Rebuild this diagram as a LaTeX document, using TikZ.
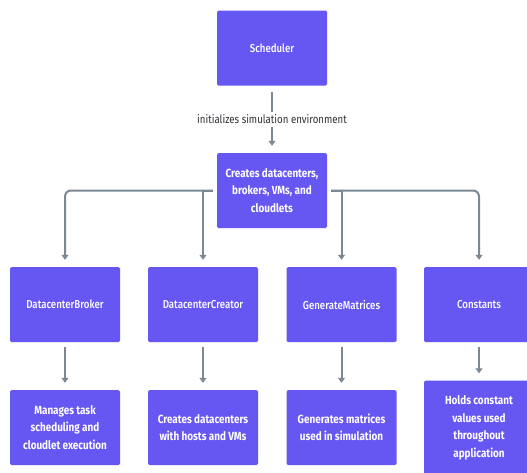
\documentclass[tikz,border=0pt]{standalone}
\usepackage{fontspec}
\setmainfont[FakeStretch=0.84]{Fira Sans}
\newfontfamily\namefont[FakeStretch=0.84]{Fira Sans Medium}
\usetikzlibrary{arrows.meta}
\definecolor{boxfill}{RGB}{102,86,242}
\definecolor{linkgray}{RGB}{124,137,149}
\definecolor{labelgray}{RGB}{45,50,56}

\begin{document}
\begin{tikzpicture}
[x=1pt,y=-1pt,%
  every node/.style={align=center,font=\fontsize{11.5}{17.5}\selectfont},%
  box/.style={shape=rectangle,fill=boxfill,text=white,rounded corners=1.5pt,%
    minimum width=110pt,minimum height=75pt,inner sep=2pt,%
    font=\fontsize{11.5}{17.5}\namefont},%
  descr/.style={box,font=\fontsize{11.8}{17.5}\selectfont\bfseries},%
  link/.style={draw=linkgray,line width=2pt,%
    -{Triangle[width=7pt,length=5pt]},shorten >=7pt}]
\clip (0,0) rectangle (527,472);
\fill[white] (0,0) rectangle (527,472);
% top of the chart
\node[box] (sched) at (272,48) {Scheduler};
\node[descr] (creat) at (272,190.5) {Creates datacenters,\\brokers, VMs, and\\cloudlets};
% middle row
\node[box] (broker) at (65,304.5) {DatacenterBroker};
\node[box] (creator) at (203,304.5) {DatacenterCreator};
\node[box] (matrix) at (341.5,304.5) {GenerateMatrices};
\node[box] (const) at (479,304.5) {Constants};
% bottom row
\node[descr] (manage) at (65,427.5) {Manages task\\scheduling and\\cloudlet execution};
\node[descr] (hosts) at (203,427.5) {Creates datacenters\\with hosts and VMs};
\node[descr] (gener) at (341.5,427.5) {Generates matrices\\used in simulation};
\node[descr,minimum height=95pt] (holds) at (479,428) {Holds constant\\values used\\throughout\\application};
% connectors
\draw[link,shorten <=6pt] (sched) -- (creat)
  node[midway,fill=white,text=labelgray,inner sep=3pt] (init) {initializes simulation environment};
\draw[link,rounded corners=6pt,shorten <=4pt] (creat.west) -| (broker.north);
\draw[link,shorten <=4pt] (creat.west) -| (creator.north);
\draw[link,rounded corners=6pt,shorten <=4pt] (creat.east) -| (const.north);
\draw[link,shorten <=4pt] (creat.east) -| (matrix.north);
\draw[link,shorten <=5pt] (broker) -- (manage);
\draw[link,shorten <=5pt] (creator) -- (hosts);
\draw[link,shorten <=5pt] (matrix) -- (gener);
\draw[link,shorten <=5pt] (const) -- (holds);
\end{tikzpicture}
\end{document}
